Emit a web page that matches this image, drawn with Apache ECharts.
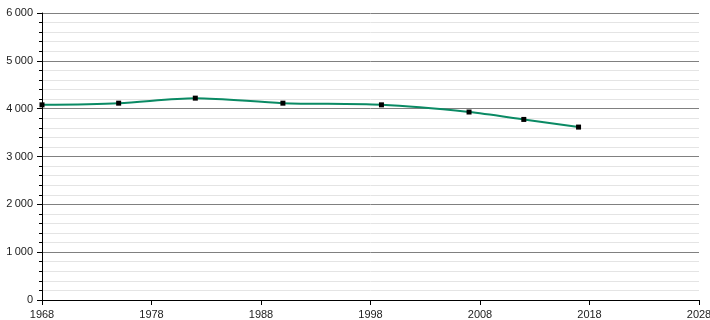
<!DOCTYPE html>
<html><head><meta charset="utf-8">
<script src="https://cdn.jsdelivr.net/npm/echarts@6/dist/echarts.min.js"></script>
<style>html,body{margin:0;padding:0;background:#fff;overflow:hidden}#c{width:710px;height:320px}</style>
</head><body><div id="c"></div>
<script>
const years = [1968, 1975, 1982, 1990, 1999, 2007, 2012, 2017];
const population = [4080, 4115, 4220, 4115, 4080, 3930, 3775, 3615];
const xStart = 1968;
const xEnd = 2028;

const chart = echarts.init(document.getElementById('c'), null, {renderer: 'canvas', width: 710, height: 320});
const fmt = v => String(v).replace(/\B(?=(\d{3})+(?!\d))/g, '\u202f');
chart.setOption({
  animation: false,
  grid: {left: 42, right: 11, top: 13, bottom: 20, containLabel: false, outerBoundsMode: 'none'},
  xAxis: {
    type: 'value', min: 0, max: xEnd - xStart, interval: 10,
    axisLine: {show: true, lineStyle: {color: '#000', width: 1}},
    axisTick: {show: true, length: 5, lineStyle: {color: '#000'}},
    axisLabel: {formatter: v => String(v + xStart), color: '#222', fontSize: 11, fontFamily: 'Liberation Sans, Arial, sans-serif', margin: 9},
    splitLine: {show: false}
  },
  yAxis: {
    type: 'value', min: 0, max: 6000, interval: 1000,
    axisLine: {show: true, lineStyle: {color: '#000', width: 1}},
    axisTick: {show: true, length: 5, lineStyle: {color: '#000'}},
    minorTick: {show: true, splitNumber: 5, length: 3, lineStyle: {color: '#000'}},
    axisLabel: {formatter: fmt, color: '#222', fontSize: 11, fontFamily: 'Liberation Sans, Arial, sans-serif', margin: 9},
    splitLine: {show: true, lineStyle: {color: '#808080', width: 1}},
    minorSplitLine: {show: true, lineStyle: {color: '#e4e4e4', width: 1}}
  },
  series: [{
    type: 'line',
    data: years.map((y, i) => [y - xStart, population[i]]),
    smooth: 0.3,
    symbol: 'rect', symbolSize: 5,
    itemStyle: {color: '#000'},
    lineStyle: {color: '#0a8a64', width: 2},
    z: 3
  }]
});
</script></body></html>
